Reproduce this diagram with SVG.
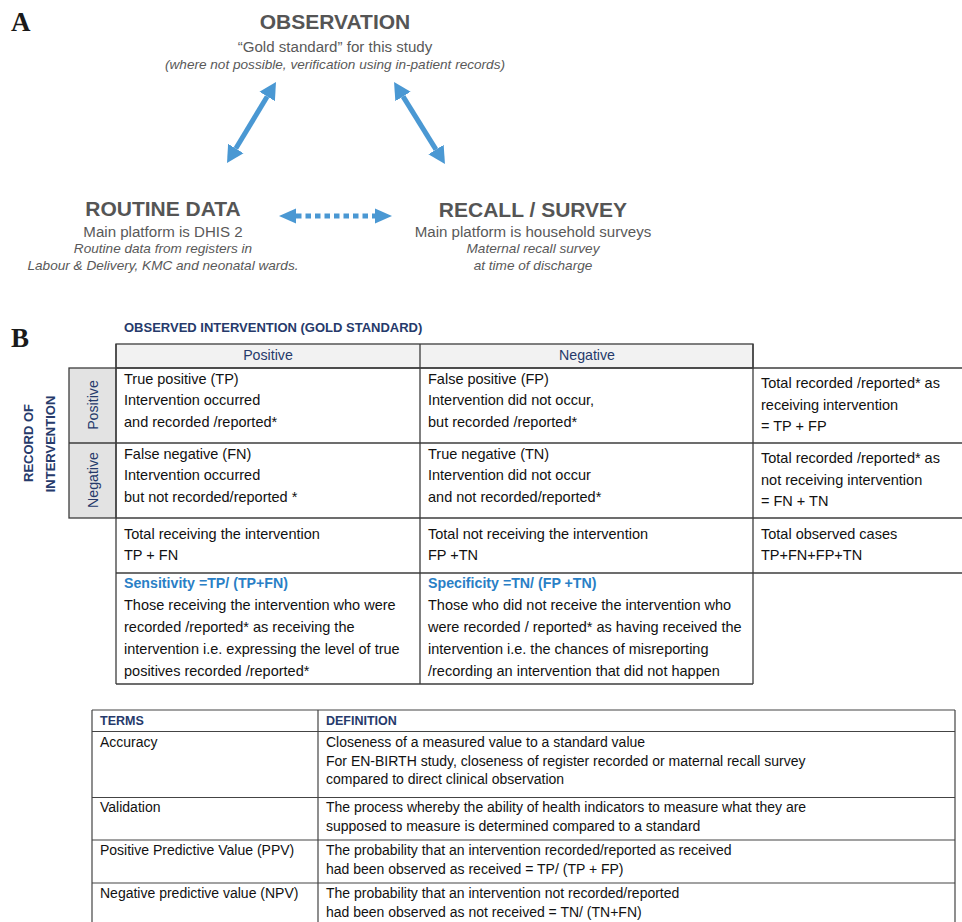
<svg xmlns="http://www.w3.org/2000/svg" width="962" height="922" viewBox="0 0 962 922">
<style>
.panel{font-family:"Liberation Serif","Times New Roman",serif;font-weight:bold;font-size:27px;fill:#1a1a1a}
.ttl{font-family:"Liberation Sans",Arial,sans-serif;font-weight:bold;font-size:21px;fill:#555555;text-anchor:middle}
.sub{font-family:"Liberation Sans",Arial,sans-serif;font-size:15.1px;fill:#595959;text-anchor:middle}
.it{font-family:"Liberation Sans",Arial,sans-serif;font-style:italic;font-size:13.6px;fill:#595959;text-anchor:middle}
.arrow{stroke:#4a98d3;stroke-width:5;fill:none}
.t{font-family:"Liberation Sans",Arial,sans-serif;font-size:14.5px;fill:#111111}
.nv{font-family:"Liberation Sans",Arial,sans-serif;font-size:14.2px;fill:#263a6b}
.nvb{font-family:"Liberation Sans",Arial,sans-serif;font-size:13px;font-weight:bold;fill:#263a6b}
.bl{font-family:"Liberation Sans",Arial,sans-serif;font-size:14.2px;font-weight:bold;fill:#2a7fc6}
.d{font-family:"Liberation Sans",Arial,sans-serif;font-size:14px;fill:#111111}
.dh{font-family:"Liberation Sans",Arial,sans-serif;font-size:12.5px;font-weight:bold;fill:#263a6b}
.grid{stroke:#3c3c3c;stroke-width:1.3;fill:none}
.grid2{stroke:#444444;stroke-width:1.2;fill:none}
</style>
<defs>
<marker id="head" markerUnits="userSpaceOnUse" markerWidth="18" markerHeight="20" refX="0" refY="9" orient="auto-start-reverse" viewBox="0 0 18 18">
<path d="M0,0 L17,9 L0,18 z" fill="#4a98d3"/>
</marker>
<marker id="head2" markerUnits="userSpaceOnUse" markerWidth="18" markerHeight="16" refX="0" refY="7.5" orient="auto-start-reverse" viewBox="0 0 18 15">
<path d="M0,0 L17,7.5 L0,15 z" fill="#4a98d3"/>
</marker>
</defs>
<rect width="962" height="922" fill="#ffffff"/>

<text class="panel" x="11" y="31">A</text>
<text class="panel" x="11" y="347">B</text>

<g id="observation">
<text class="ttl" x="335" y="29">OBSERVATION</text>
<text class="sub" x="335" y="52">“Gold standard” for this study</text>
<text class="it" x="335" y="69">(where not possible, verification using in-patient records)</text>
</g>
<g id="routine-data">
<text class="ttl" x="163" y="216">ROUTINE DATA</text>
<text class="sub" x="163" y="237">Main platform is DHIS 2</text>
<text class="it" x="163" y="253">Routine data from registers in</text>
<text class="it" x="163" y="270">Labour &amp; Delivery, KMC and neonatal wards.</text>
</g>
<g id="recall-survey">
<text class="ttl" x="533" y="217">RECALL / SURVEY</text>
<text class="sub" x="533" y="237">Main platform is household surveys</text>
<text class="it" x="533" y="253">Maternal recall survey</text>
<text class="it" x="533" y="270">at time of discharge</text>
</g>

<g id="connectors">
<line class="arrow" x1="267.2" y1="96.5" x2="235.8" y2="148.5" marker-start="url(#head)" marker-end="url(#head)"/>
<line class="arrow" x1="403" y1="96.4" x2="436" y2="149.6" marker-start="url(#head)" marker-end="url(#head)"/>
<line class="arrow" x1="296" y1="216" x2="375" y2="216" stroke-dasharray="5.5 4" marker-start="url(#head2)" marker-end="url(#head2)"/>
</g>

<g id="table-b">
<text class="nvb" x="124" y="332">OBSERVED INTERVENTION (GOLD STANDARD)</text>
<rect x="116" y="344" width="637" height="24" fill="#f2f2f2"/>
<rect x="69" y="368" width="47" height="150" fill="#e3e3e3"/>
<g class="grid">
<rect x="116" y="344" width="637" height="24"/>
<rect x="69" y="368" width="47" height="150"/>
<line x1="69" y1="443" x2="962" y2="443"/>
<line x1="116" y1="368" x2="962" y2="368"/>
<line x1="116" y1="518" x2="962" y2="518"/>
<line x1="116" y1="573" x2="962" y2="573"/>
<line x1="116" y1="684" x2="753" y2="684"/>
<line x1="116" y1="344" x2="116" y2="684"/>
<line x1="420" y1="344" x2="420" y2="684"/>
<line x1="753" y1="344" x2="753" y2="684"/>
</g>
<text class="nvb" transform="translate(33,443) rotate(-90)" text-anchor="middle">RECORD OF</text>
<text class="nvb" transform="translate(55,444) rotate(-90)" text-anchor="middle">INTERVENTION</text>
<text class="nv" transform="translate(97.5,405) rotate(-90)" text-anchor="middle">Positive</text>
<text class="nv" transform="translate(97.5,480) rotate(-90)" text-anchor="middle">Negative</text>
<text class="nv" x="268" y="360" text-anchor="middle">Positive</text>
<text class="nv" x="587" y="360" text-anchor="middle">Negative</text>

<text class="t" x="124" y="383.5">True positive (TP)</text>
<text class="t" x="124" y="405">Intervention occurred</text>
<text class="t" x="124" y="427">and recorded /reported*</text>
<text class="t" x="428" y="383.5">False positive (FP)</text>
<text class="t" x="428" y="405">Intervention did not occur,</text>
<text class="t" x="428" y="427">but recorded /reported*</text>
<text class="t" x="761" y="388">Total recorded /reported* as</text>
<text class="t" x="761" y="409.5">receiving intervention</text>
<text class="t" x="761" y="431">= TP + FP</text>

<text class="t" x="124" y="458.5">False negative (FN)</text>
<text class="t" x="124" y="480">Intervention occurred</text>
<text class="t" x="124" y="502">but not recorded/reported *</text>
<text class="t" x="428" y="458.5">True negative (TN)</text>
<text class="t" x="428" y="480">Intervention did not occur</text>
<text class="t" x="428" y="502">and not recorded/reported*</text>
<text class="t" x="761" y="463">Total recorded /reported* as</text>
<text class="t" x="761" y="484.5">not receiving intervention</text>
<text class="t" x="761" y="506">= FN + TN</text>

<text class="t" x="124" y="539">Total receiving the intervention</text>
<text class="t" x="124" y="560">TP + FN</text>
<text class="t" x="428" y="539">Total not receiving the intervention</text>
<text class="t" x="428" y="560">FP +TN</text>
<text class="t" x="761" y="539">Total observed cases</text>
<text class="t" x="761" y="560">TP+FN+FP+TN</text>

<text class="bl" x="124" y="588">Sensitivity =TP/ (TP+FN)</text>
<text class="t" x="124" y="610">Those receiving the intervention who were</text>
<text class="t" x="124" y="632">recorded /reported* as receiving the</text>
<text class="t" x="124" y="654">intervention i.e. expressing the level of true</text>
<text class="t" x="124" y="676">positives recorded /reported*</text>
<text class="bl" x="428" y="588">Specificity =TN/ (FP +TN)</text>
<text class="t" x="428" y="610">Those who did not receive the intervention who</text>
<text class="t" x="428" y="632">were recorded / reported* as having received the</text>
<text class="t" x="428" y="654">intervention i.e. the chances of misreporting</text>
<text class="t" x="428" y="676">/recording an intervention that did not happen</text>
</g>

<g id="terms-table">
<g class="grid2">
<line x1="92" y1="710" x2="955" y2="710"/>
<line x1="92" y1="731.5" x2="955" y2="731.5"/>
<line x1="92" y1="797.5" x2="955" y2="797.5"/>
<line x1="92" y1="840" x2="955" y2="840"/>
<line x1="92" y1="883" x2="955" y2="883"/>
<line x1="92" y1="710" x2="92" y2="922"/>
<line x1="318" y1="710" x2="318" y2="922"/>
<line x1="955" y1="710" x2="955" y2="922"/>
</g>
<text class="dh" x="100" y="725">TERMS</text>
<text class="dh" x="326" y="725">DEFINITION</text>
<text class="d" x="100" y="747">Accuracy</text>
<text class="d" x="326" y="747">Closeness of a measured value to a standard value</text>
<text class="d" x="326" y="765.5">For EN-BIRTH study, closeness of register recorded or maternal recall survey</text>
<text class="d" x="326" y="784">compared to direct clinical observation</text>
<text class="d" x="100" y="811.5">Validation</text>
<text class="d" x="326" y="811.5">The process whereby the ability of health indicators to measure what they are</text>
<text class="d" x="326" y="830.5">supposed to measure is determined compared to a standard</text>
<text class="d" x="100" y="855">Positive Predictive Value (PPV)</text>
<text class="d" x="326" y="855">The probability that an intervention recorded/reported as received</text>
<text class="d" x="326" y="874">had been observed as received = TP/ (TP + FP)</text>
<text class="d" x="100" y="898">Negative predictive value (NPV)</text>
<text class="d" x="326" y="898">The probability that an intervention not recorded/reported</text>
<text class="d" x="326" y="917">had been observed as not received = TN/ (TN+FN)</text>
</g>
</svg>
